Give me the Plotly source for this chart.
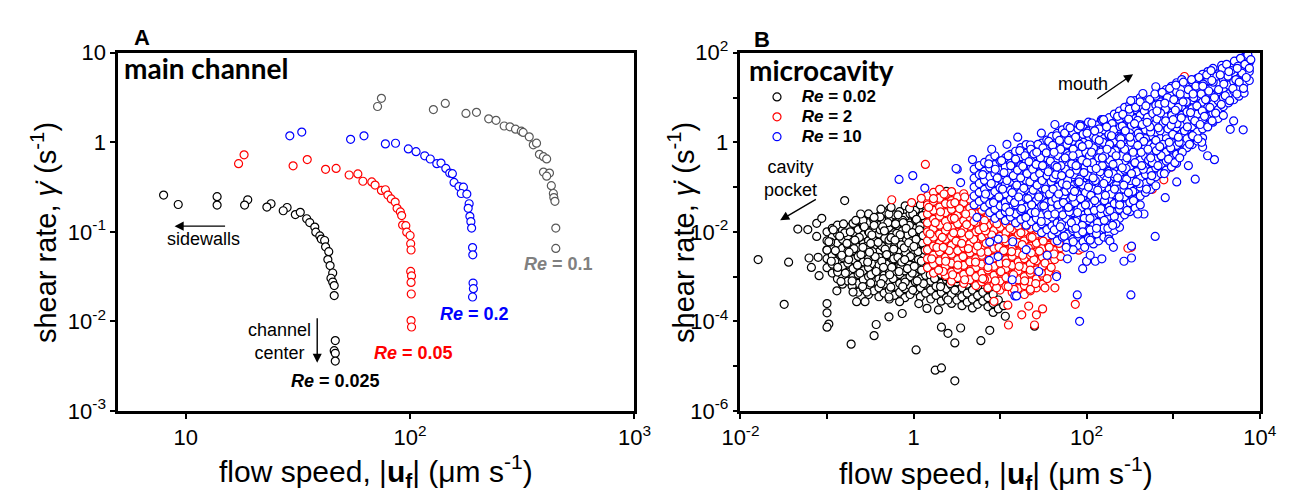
import plotly.graph_objects as go

FONT = "Liberation Sans, Arial, sans-serif"
W, H = 1301, 504

# ---------------- Panel A : main channel ----------------
A_x_re0025 = [7.97, 9.26, 13.8, 13.8, 18.9, 18.3, 24.0, 23.0, 28.3, 27.2, 30.8, 32.4, 34.6, 35.7, 37.6, 38.0,
              39.6, 40.2, 41.6, 42.0, 43.4, 43.0, 44.0, 45.2, 44.4, 45.2, 45.9, 45.9, 46.4, 45.9, 46.4, 46.4]
A_y_re0025 = [0.257, 0.202, 0.247, 0.199, 0.228, 0.199, 0.206, 0.189, 0.187, 0.172, 0.156, 0.165, 0.140, 0.127,
              0.113, 0.099, 0.090, 0.083, 0.080, 0.068, 0.060, 0.049, 0.042, 0.0347, 0.0303, 0.0275, 0.0251,
              0.0194, 0.0061, 0.0047, 0.0044, 0.0036]

A_x_re005 = [17.2, 18.2, 30.1, 34.8, 42.0, 46.8, 53.5, 58.5, 61.6, 67.5, 69.8, 74.5, 77.6, 79.6, 82.4, 85.8,
             87.5, 90.5, 91.7, 92.6, 95.7, 96.6, 100, 100.6, 101, 100.6, 101.5, 101, 101.2, 101, 101.5]
A_y_re005 = [0.577, 0.725, 0.546, 0.641, 0.499, 0.511, 0.431, 0.443, 0.367, 0.361, 0.333, 0.290, 0.295, 0.257,
             0.233, 0.215, 0.183, 0.167, 0.152, 0.119, 0.117, 0.099, 0.091, 0.0736, 0.0627, 0.0361, 0.0322,
             0.0272, 0.0202, 0.0102, 0.00865]

A_x_re02 = [29.1, 32.9, 54.3, 62.3, 77.6, 86.1, 98.2, 106.3, 116.2, 123, 131.5, 137.3, 144.3, 150.2, 154.3,
            157, 165, 172.8, 169, 179, 183.3, 181.5, 184.7, 186.6, 188, 189.8, 190.3, 190.8, 191.5, 189.8]
A_y_re02 = [1.18, 1.30, 1.08, 1.18, 0.96, 0.976, 0.844, 0.785, 0.707, 0.651, 0.577, 0.586, 0.511, 0.453,
            0.446, 0.356, 0.320, 0.315, 0.268, 0.264, 0.206, 0.183, 0.149, 0.130, 0.110, 0.0667, 0.0554,
            0.0268, 0.0232, 0.0187]

A_x_re01 = [71.6, 74.5, 127, 143.5, 177.4, 197.6, 224, 241.5, 262.6, 278.6, 295, 313, 319, 339.6, 354, 366,
            377, 393, 406, 393, 418, 406, 426, 435, 437, 442, 446, 446]
A_y_re01 = [2.51, 3.10, 2.32, 2.72, 2.10, 2.16, 1.83, 1.76, 1.52, 1.49, 1.40, 1.33, 1.29, 1.15, 0.937, 0.977,
            0.734, 0.690, 0.652, 0.465, 0.453, 0.418, 0.328, 0.268, 0.241, 0.219, 0.110, 0.0652]

A_xtick_vals = [10, 100, 1000]
A_xtick_text = ["10", "10<sup>2</sup>", "10<sup>3</sup>"]
A_ytick_vals = [1e-3, 1e-2, 1e-1, 1, 10]
A_ytick_text = ["10<sup>-3</sup>", "10<sup>-2</sup>", "10<sup>-1</sup>", "1", "10"]

# ---------------- Panel B : microcavity ----------------
# point clouds read column by column: (flow speed, [shear rates])
B_re002_cols = [
    (0.1, [1.58e-3, 2.51e-3, 3.98e-3, 6.31e-3, 0.01]),
    (0.115, [1.2e-3, 1.9e-3, 3.0e-3, 4.8e-3, 7.6e-3, 0.012]),
    (0.132, [8.91e-4, 1.41e-3, 2.24e-3, 3.55e-3, 5.62e-3, 8.91e-3, 0.0141]),
    (0.151, [6.76e-4, 1.07e-3, 1.7e-3, 2.69e-3, 4.27e-3, 6.76e-3, 0.0107]),
    (0.174, [7.94e-4, 1.26e-3, 2.0e-3, 3.16e-3, 5.0e-3, 7.94e-3, 0.0126]),
    (0.2, [6.03e-4, 9.55e-4, 1.51e-3, 2.4e-3, 3.8e-3, 6.03e-3, 9.55e-3, 0.0151]),
    (0.229, [4.47e-4, 7.08e-4, 1.12e-3, 1.78e-3, 2.82e-3, 4.47e-3, 7.08e-3, 0.0112, 0.0178]),
    (0.263, [5.37e-4, 8.51e-4, 1.35e-3, 2.14e-3, 3.39e-3, 5.37e-3, 8.51e-3, 0.0135, 0.0214]),
    (0.302, [3.98e-4, 6.31e-4, 1e-3, 1.58e-3, 2.51e-3, 3.98e-3, 6.31e-3, 0.01, 0.0158, 0.0251]),
    (0.347, [4.8e-4, 7.6e-4, 1.2e-3, 1.9e-3, 3.0e-3, 4.8e-3, 7.6e-3, 0.012, 0.019]),
    (0.398, [3.55e-4, 5.62e-4, 8.91e-4, 1.41e-3, 2.24e-3, 3.55e-3, 5.62e-3, 8.91e-3, 0.0141, 0.0224]),
    (0.457, [4.27e-4, 6.76e-4, 1.07e-3, 1.7e-3, 2.69e-3, 4.27e-3, 6.76e-3, 0.0107, 0.017, 0.0269]),
    (0.525, [3.16e-4, 5.0e-4, 7.94e-4, 1.26e-3, 2.0e-3, 3.16e-3, 5.0e-3, 7.94e-3, 0.0126, 0.02, 0.0316]),
    (0.603, [3.8e-4, 6.03e-4, 9.55e-4, 1.51e-3, 2.4e-3, 3.8e-3, 6.03e-3, 9.55e-3, 0.0151, 0.024]),
    (0.692, [4.47e-4, 7.08e-4, 1.12e-3, 1.78e-3, 2.82e-3, 4.47e-3, 7.08e-3, 0.0112, 0.0178, 0.0282]),
    (0.794, [3.39e-4, 5.37e-4, 8.51e-4, 1.35e-3, 2.14e-3, 3.39e-3, 5.37e-3, 8.51e-3, 0.0135, 0.0214]),
    (0.912, [3.98e-4, 6.31e-4, 1e-3, 1.58e-3, 2.51e-3, 3.98e-3, 6.31e-3, 0.01, 0.0158, 0.0251]),
    (1.05, [4.8e-4, 7.6e-4, 1.2e-3, 1.9e-3, 3.0e-3, 4.8e-3, 7.6e-3, 0.012, 0.019, 0.030]),
    (1.2, [3.55e-4, 5.62e-4, 8.91e-4, 1.41e-3, 2.24e-3, 3.55e-3, 5.62e-3, 8.91e-3, 0.0141, 0.0224]),
    (1.38, [4.27e-4, 6.76e-4, 1.07e-3, 1.7e-3, 2.69e-3, 4.27e-3, 6.76e-3, 0.0107, 0.017, 0.0269]),
    (1.58, [3.16e-4, 5.0e-4, 7.94e-4, 1.26e-3, 2.0e-3, 3.16e-3, 5.0e-3, 7.94e-3, 0.0126, 0.02, 0.0316]),
    (1.82, [3.8e-4, 6.03e-4, 9.55e-4, 1.51e-3, 2.4e-3, 3.8e-3, 6.03e-3, 9.55e-3]),
    (2.09, [2.82e-4, 4.47e-4, 7.08e-4, 1.12e-3, 1.78e-3, 2.82e-3, 4.47e-3]),
    (2.4, [3.39e-4, 5.37e-4, 8.51e-4, 1.35e-3, 2.14e-3, 3.39e-3]),
    (2.75, [2.51e-4, 3.98e-4, 6.31e-4, 1e-3, 1.58e-3, 2.51e-3]),
    (3.16, [3.0e-4, 4.8e-4, 7.6e-4, 1.2e-3]),
    (3.63, [2.24e-4, 3.55e-4, 5.62e-4, 8.91e-4]),
    (4.17, [2.69e-4, 4.27e-4, 6.76e-4]),
    (4.79, [2.0e-4, 3.16e-4, 5.0e-4, 7.94e-4]),
    (5.5, [2.4e-4, 3.8e-4, 6.03e-4]),
    (6.31, [2.82e-4, 4.47e-4]),
    (7.24, [2.14e-4, 3.39e-4, 5.37e-4]),
    (8.32, [1.58e-4, 2.51e-4, 3.98e-4]),
    (9.55, [1.9e-4, 3.0e-4]),
    (11.0, [2.24e-4]),
]
B_re002_extra = [
    (0.016, 2.4e-3), (0.036, 2.1e-3), (0.032, 2.4e-4), (0.046, 0.0115), (0.060, 0.0112), (0.076, 7.9e-3),
    (0.076, 0.0155), (0.087, 0.020), (0.16, 0.050), (0.10, 2.5e-4), (0.10, 1.55e-4), (0.105, 8.7e-5),
    (0.10, 7.4e-5), (0.19, 3.1e-5), (0.35, 4.8e-5), (0.37, 8.5e-5), (0.52, 1.26e-4), (1.07, 2.3e-5),
    (1.78, 8.1e-6), (2.1, 9.1e-6), (3.0, 4.7e-6), (0.74, 1.5e-4), (1.15, 2.5e-4), (2.1, 7.4e-5),
    (2.5, 5.4e-5), (3.0, 3.3e-5), (6.0, 3.7e-5), (7.6, 6.3e-5), (11.5, 1.3e-4), (25, 7.8e-5), (3.5, 7.1e-5),
    (0.062, 2.6e-3), (0.079, 2.7e-3), (0.066, 1.6e-3), (0.081, 1.05e-3), (0.133, 1.26e-3),
    (0.13, 4.8e-4), (0.145, 7.8e-4), (0.195, 6.2e-4), (0.20, 4.5e-4), (0.22, 2.75e-4), (0.275, 2.75e-4),
    (0.29, 4.5e-4), (0.32, 7.2e-4), (0.52, 3.5e-4), (0.69, 2.75e-4),
    (1.43, 1.95e-4), (1.94, 1.8e-4), (2.5, 3.0e-4), (0.11, 5.9e-3), (0.10, 3.9e-3),
    (0.16, 9.5e-3), (0.20, 0.0155), (0.26, 0.018), (0.35, 0.018), (0.45, 0.0275), (0.52, 0.025),
    (0.75, 0.018), (0.98, 0.025), (1.26, 0.023), (1.6, 0.0295), (0.245, 0.025), (0.174, 3.6e-3),
    (0.123, 2.2e-3), (0.41, 0.0215), (0.55, 0.035), (0.8, 0.038), (1.2, 0.04), (0.42, 0.032),
    (1.6, 0.045), (1.8, 0.062), (2.4, 0.08), (1.45, 0.045), (0.9, 0.033),
]
B_re002_scatter = [
    (0.105, 0.006), (0.112, 0.0022), (0.118, 0.011), (0.125, 0.0038), (0.133, 0.0016), (0.14, 0.008),
    (0.148, 0.003), (0.155, 0.015), (0.163, 0.0012), (0.17, 0.0055), (0.178, 0.0024), (0.186, 0.01),
    (0.195, 0.0008), (0.205, 0.0042), (0.215, 0.018), (0.225, 0.0018), (0.236, 0.0075), (0.247, 0.0031),
    (0.258, 0.0006), (0.27, 0.013), (0.282, 0.0047), (0.295, 0.0021), (0.308, 0.0095), (0.322, 0.0011),
    (0.336, 0.0036), (0.35, 0.021), (0.365, 0.0062), (0.38, 0.0015), (0.396, 0.0027), (0.412, 0.011),
    (0.43, 0.0048), (0.448, 0.0009), (0.466, 0.0072), (0.485, 0.0019), (0.505, 0.016), (0.525, 0.0034),
    (0.546, 0.00058), (0.568, 0.0085), (0.59, 0.0025), (0.613, 0.0013), (0.637, 0.0055), (0.662, 0.024),
    (0.688, 0.0039), (0.714, 0.0017), (0.742, 0.0105), (0.77, 0.0029), (0.8, 0.00075), (0.83, 0.0065),
    (0.862, 0.0022), (0.895, 0.014), (0.93, 0.0044), (0.965, 0.0012), (1.0, 0.0082), (1.04, 0.0026),
    (1.08, 0.019), (1.12, 0.0052), (1.16, 0.0015), (1.21, 0.0098), (1.25, 0.0032), (1.3, 0.0007),
    (1.35, 0.0068), (1.4, 0.0021), (1.45, 0.0125), (1.5, 0.0041), (1.56, 0.0011), (1.62, 0.0058),
    (1.68, 0.0018), (1.75, 0.0009), (1.82, 0.0035), (1.9, 0.0014), (1.98, 0.0026), (2.05, 0.0006),
    (2.15, 0.0017), (2.25, 0.0042), (2.35, 0.001), (2.5, 0.0021), (2.65, 0.0007), (2.8, 0.0013),
    (3.0, 0.0005), (3.2, 0.0009), (0.32, 0.0055), (0.36, 0.0028), (0.4, 0.0018), (0.44, 0.013),
    (0.47, 0.0041), (0.52, 0.0065), (0.56, 0.0016), (0.6, 0.0046), (0.64, 0.0092), (0.68, 0.0013),
    (0.72, 0.0051), (0.76, 0.016), (0.81, 0.0035), (0.86, 0.0085), (0.9, 0.0018), (0.95, 0.0062),
    (0.99, 0.0031), (1.06, 0.0047), (1.14, 0.0024), (1.19, 0.0135), (1.27, 0.0056), (1.33, 0.0017),
    (1.42, 0.0078), (1.52, 0.0027), (0.42, 0.0007), (0.58, 0.0009), (0.75, 0.0006), (0.98, 0.0005),
    (1.1, 0.0008),
    (0.31, 0.0035), (0.33, 0.0085), (0.37, 0.0013), (0.39, 0.0058), (0.43, 0.0022), (0.46, 0.0105),
    (0.49, 0.0031), (0.53, 0.0011), (0.55, 0.0074), (0.59, 0.0041), (0.62, 0.015), (0.66, 0.0027),
    (0.7, 0.0086), (0.73, 0.0021), (0.78, 0.0044), (0.82, 0.012), (0.85, 0.0015), (0.88, 0.0057),
    (0.92, 0.0028), (0.97, 0.0096), (1.02, 0.0017), (1.07, 0.0068), (1.13, 0.0036), (1.17, 0.011),
    (1.23, 0.0022), (1.29, 0.0082), (1.36, 0.0039), (1.44, 0.0016), (1.49, 0.0093), (1.57, 0.0033),
    (0.35, 0.014), (0.45, 0.0016), (0.61, 0.0065), (0.79, 0.0024), (1.01, 0.0047), (1.24, 0.0014),
    (0.26, 0.0045), (0.24, 0.0012), (0.21, 0.0065), (0.18, 0.0035),
]

B_re2_cols = [
    (1.45, [1.58e-3, 2.51e-3, 3.98e-3, 6.31e-3, 0.01, 0.0158, 0.0251, 0.0398, 0.0631]),
    (1.70, [1.2e-3, 1.9e-3, 3.0e-3, 4.8e-3, 7.6e-3, 0.012, 0.019, 0.030, 0.048, 0.076]),
    (2.0, [1.41e-3, 2.24e-3, 3.55e-3, 5.62e-3, 8.91e-3, 0.0141, 0.0224, 0.0355, 0.0562, 0.0891]),
    (2.34, [1.07e-3, 1.7e-3, 2.69e-3, 4.27e-3, 6.76e-3, 0.0107, 0.017, 0.0269, 0.0427, 0.0676]),
    (2.75, [7.94e-4, 1.26e-3, 2.0e-3, 3.16e-3, 5.0e-3, 7.94e-3, 0.0126, 0.02, 0.0316, 0.05, 0.0794]),
    (3.24, [9.55e-4, 1.51e-3, 2.4e-3, 3.8e-3, 6.03e-3, 9.55e-3, 0.0151, 0.024, 0.038, 0.0603]),
    (3.80, [7.08e-4, 1.12e-3, 1.78e-3, 2.82e-3, 4.47e-3, 7.08e-3, 0.0112, 0.0178, 0.0282, 0.0447, 0.0708]),
    (4.47, [8.51e-4, 1.35e-3, 2.14e-3, 3.39e-3, 5.37e-3, 8.51e-3, 0.0135, 0.0214, 0.0339, 0.0537]),
    (5.25, [6.31e-4, 1e-3, 1.58e-3, 2.51e-3, 3.98e-3, 6.31e-3, 0.01, 0.0158, 0.0251, 0.0398]),
    (6.17, [7.6e-4, 1.2e-3, 1.9e-3, 3.0e-3, 4.8e-3, 7.6e-3, 0.012, 0.019, 0.030]),
    (7.24, [5.62e-4, 8.91e-4, 1.41e-3, 2.24e-3, 3.55e-3, 5.62e-3, 8.91e-3, 0.0141, 0.0224, 0.0355]),
    (8.51, [6.76e-4, 1.07e-3, 1.7e-3, 2.69e-3, 4.27e-3, 6.76e-3, 0.0107, 0.017, 0.0269]),
    (10.0, [5.0e-4, 7.94e-4, 1.26e-3, 2.0e-3, 3.16e-3, 5.0e-3, 7.94e-3, 0.0126, 0.02]),
    (11.7, [6.03e-4, 9.55e-4, 1.51e-3, 2.4e-3, 3.8e-3, 6.03e-3, 9.55e-3, 0.0151, 0.024]),
    (13.8, [4.47e-4, 7.08e-4, 1.12e-3, 1.78e-3, 2.82e-3, 4.47e-3, 7.08e-3, 0.0112, 0.0178]),
    (16.2, [5.37e-4, 8.51e-4, 1.35e-3, 2.14e-3, 3.39e-3, 5.37e-3, 8.51e-3, 0.0135]),
    (19.1, [3.98e-4, 6.31e-4, 1e-3, 1.58e-3, 2.51e-3, 3.98e-3, 6.31e-3, 0.01, 0.0158]),
    (22.4, [4.8e-4, 7.6e-4, 1.2e-3, 1.9e-3, 3.0e-3, 4.8e-3, 7.6e-3, 0.012]),
    (26.3, [5.62e-4, 8.91e-4, 1.41e-3, 2.24e-3, 3.55e-3, 5.62e-3, 8.91e-3]),
    (30.9, [6.76e-4, 1.07e-3, 1.7e-3, 2.69e-3, 4.27e-3, 6.76e-3]),
    (36.3, [1.26e-3, 2.0e-3, 3.16e-3, 5.0e-3, 7.94e-3]),
    (42.7, [2.4e-3, 3.8e-3, 6.03e-3]),
    (50.1, [2.82e-3, 4.47e-3]),
]
B_re2_extra = [
    (1.37, 0.32), (0.56, 0.052), (0.95, 0.045), (1.23, 0.056), (2.2, 1.3e-3), (3.9, 8.5e-4), (6.6, 8.7e-4),
    (8.5, 2.8e-4), (12.3, 2.3e-4), (12.5, 8.3e-5), (17.8, 1.4e-4), (21.4, 2.2e-4), (25, 8.3e-5),
    (26.3, 1.4e-4), (31, 1.9e-4), (9.1, 5.6e-4), (14.5, 5.2e-4), (22.4, 5.2e-4),
    (33, 5.6e-4), (43, 5.6e-4), (74, 2.4e-4), (81, 3.9e-3), (100, 2.2e-3), (330, 4.6e-3), (250, 5.0),
    (115, 2.45), (1350, 29.5), (780, 0.145), (575, 0.089), (300, 0.05), (316, 0.036), (220, 0.022),
    (120, 0.0148), (325, 4.5e-3), (955, 0.28), (126, 2.3), (30, 0.63), (316, 5.0), (60, 0.03), (80, 0.1),
    (150, 0.2), (200, 1.0), (400, 2.0), (600, 5), (1000, 10), (45, 0.5), (100, 0.6), (250, 0.05),
    (500, 0.6), (800, 3), (35, 8e-3), (55, 6e-3), (90, 0.012), (130, 0.03), (180, 0.08), (70, 0.3),
    (1500, 15), (700, 1.5), (275, 0.048), (215, 0.021), (300, 4.3e-3), (115, 0.0112), (98, 0.018),
    (89, 4.3e-3),
]
B_re2_scatter = [
    (1.5, 0.035), (1.55, 0.009), (1.62, 0.0025), (1.7, 0.055), (1.78, 0.016), (1.86, 0.0045), (1.95, 0.0014),
    (2.05, 0.028), (2.15, 0.0075), (2.25, 0.07), (2.35, 0.0022), (2.46, 0.013), (2.58, 0.0038), (2.7, 0.042),
    (2.83, 0.0011), (2.96, 0.02), (3.1, 0.0062), (3.25, 0.0018), (3.4, 0.033), (3.56, 0.0095), (3.73, 0.0028),
    (3.9, 0.06), (4.1, 0.0145), (4.3, 0.0042), (4.5, 0.0013), (4.7, 0.026), (4.95, 0.0068), (5.2, 0.0021),
    (5.45, 0.04), (5.7, 0.011), (6.0, 0.0035), (6.3, 0.0009), (6.6, 0.018), (6.9, 0.0055), (7.25, 0.0016),
    (7.6, 0.03), (8.0, 0.0085), (8.4, 0.0026), (8.8, 0.0008), (9.2, 0.015), (9.7, 0.0045), (10.2, 0.0013),
    (10.7, 0.022), (11.2, 0.007), (11.8, 0.002), (12.4, 0.0006), (13, 0.012), (13.6, 0.0036), (14.3, 0.0011),
    (15, 0.018), (15.8, 0.0058), (16.6, 0.0017), (17.4, 0.0095), (18.3, 0.003), (19.2, 0.0008),
    (20.2, 0.0135), (21.2, 0.0044), (22.3, 0.0014), (23.4, 0.0075), (24.6, 0.0024), (25.8, 0.0007),
    (27.1, 0.011), (28.5, 0.0037), (30, 0.0012), (31.5, 0.0062), (33, 0.002), (35, 0.0009), (37, 0.0045),
    (39, 0.0016), (42, 0.0032), (45, 0.0011), (48, 0.0055), (2.2, 0.0045), (2.9, 0.0095), (3.6, 0.0055),
    (4.4, 0.0085), (5.5, 0.0048), (6.8, 0.0105), (8.5, 0.0062), (11, 0.0038), (14, 0.0068), (18, 0.0052),
    (23, 0.0034), (3.0, 0.045), (4.0, 0.025), (5.0, 0.017), (6.5, 0.0125),
]

B_re10_cols = [
    (5.01, [0.0398, 0.0631, 0.1, 0.158, 0.251]),
    (5.75, [0.048, 0.076, 0.12, 0.19, 0.30]),
    (6.61, [0.0355, 0.0562, 0.0891, 0.141, 0.224, 0.355]),
    (7.59, [0.0269, 0.0427, 0.0676, 0.107, 0.17, 0.269, 0.427]),
    (8.71, [0.02, 0.0316, 0.05, 0.0794, 0.126, 0.2, 0.316, 0.5]),
    (10.0, [0.024, 0.038, 0.0603, 0.0955, 0.151, 0.24, 0.38]),
    (11.5, [0.0178, 0.0282, 0.0447, 0.0708, 0.112, 0.178, 0.282, 0.447]),
    (13.2, [0.0214, 0.0339, 0.0537, 0.0851, 0.135, 0.214, 0.339, 0.537]),
    (15.1, [0.0158, 0.0251, 0.0398, 0.0631, 0.1, 0.158, 0.251, 0.398, 0.631]),
    (17.4, [0.019, 0.030, 0.048, 0.076, 0.12, 0.19, 0.30, 0.48, 0.76]),
    (20.0, [0.0141, 0.0224, 0.0355, 0.0562, 0.0891, 0.141, 0.224, 0.355, 0.562, 0.891]),
    (22.9, [0.017, 0.0269, 0.0427, 0.0676, 0.107, 0.17, 0.269, 0.427, 0.676]),
    (26.3, [0.0126, 0.02, 0.0316, 0.05, 0.0794, 0.126, 0.2, 0.316, 0.5, 0.794]),
    (30.2, [0.00955, 0.0151, 0.024, 0.038, 0.0603, 0.0955, 0.151, 0.24, 0.38, 0.603, 0.955]),
    (34.7, [0.0112, 0.0178, 0.0282, 0.0447, 0.0708, 0.112, 0.178, 0.282, 0.447, 0.708, 1.12]),
    (39.8, [0.00851, 0.0135, 0.0214, 0.0339, 0.0537, 0.0851, 0.135, 0.214, 0.339, 0.537, 0.851, 1.35]),
    (45.7, [0.00631, 0.01, 0.0158, 0.0251, 0.0398, 0.0631, 0.1, 0.158, 0.251, 0.398, 0.631, 1.0, 1.58]),
    (52.5, [0.0076, 0.012, 0.019, 0.030, 0.048, 0.076, 0.12, 0.19, 0.30, 0.48, 0.76, 1.2, 1.9]),
    (60.3, [0.00562, 0.00891, 0.0141, 0.0224, 0.0355, 0.0562, 0.0891, 0.141, 0.224, 0.355, 0.562, 0.891,
            1.41, 2.24]),
    (69.2, [0.00676, 0.0107, 0.017, 0.0269, 0.0427, 0.0676, 0.107, 0.17, 0.269, 0.427, 0.676, 1.07, 1.7]),
    (79.4, [0.005, 0.00794, 0.0126, 0.02, 0.0316, 0.05, 0.0794, 0.126, 0.2, 0.316, 0.5, 0.794, 1.26, 2.0]),
    (91.2, [0.00603, 0.00955, 0.0151, 0.024, 0.038, 0.0603, 0.0955, 0.151, 0.24, 0.38, 0.603, 0.955, 1.51,
            2.4]),
    (105, [0.00708, 0.0112, 0.0178, 0.0282, 0.0447, 0.0708, 0.112, 0.178, 0.282, 0.447, 0.708, 1.12, 1.78,
           2.82]),
    (120, [0.00537, 0.00851, 0.0135, 0.0214, 0.0339, 0.0537, 0.0851, 0.135, 0.214, 0.339, 0.537, 0.851, 1.35,
           2.14]),
    (138, [0.00631, 0.01, 0.0158, 0.0251, 0.0398, 0.0631, 0.1, 0.158, 0.251, 0.398, 0.631, 1.0, 1.58, 2.51]),
    (158, [0.0076, 0.012, 0.019, 0.030, 0.048, 0.076, 0.12, 0.19, 0.30, 0.48, 0.76, 1.2, 1.9, 3.0]),
    (182, [0.00891, 0.0141, 0.0224, 0.0355, 0.0562, 0.0891, 0.141, 0.224, 0.355, 0.562, 0.891, 1.41, 2.24,
           3.55]),
    (209, [0.0107, 0.017, 0.0269, 0.0427, 0.0676, 0.107, 0.17, 0.269, 0.427, 0.676, 1.07, 1.7, 2.69, 4.27]),
    (240, [0.0126, 0.02, 0.0316, 0.05, 0.0794, 0.126, 0.2, 0.316, 0.5, 0.794, 1.26, 2.0, 3.16, 5.0]),
    (275, [0.024, 0.038, 0.0603, 0.0955, 0.151, 0.24, 0.38, 0.603, 0.955, 1.51, 2.4, 3.8, 6.03]),
    (316, [0.0282, 0.0447, 0.0708, 0.112, 0.178, 0.282, 0.447, 0.708, 1.12, 1.78, 2.82, 4.47, 7.08]),
    (363, [0.0339, 0.0537, 0.0851, 0.135, 0.214, 0.339, 0.537, 0.851, 1.35, 2.14, 3.39, 5.37, 8.51]),
    (417, [0.0398, 0.0631, 0.1, 0.158, 0.251, 0.398, 0.631, 1.0, 1.58, 2.51, 3.98, 6.31, 10]),
    (479, [0.076, 0.12, 0.19, 0.30, 0.48, 0.76, 1.2, 1.9, 3.0, 4.8, 7.6]),
    (550, [0.0891, 0.141, 0.224, 0.355, 0.562, 0.891, 1.41, 2.24, 3.55, 5.62, 8.91]),
    (631, [0.107, 0.17, 0.269, 0.427, 0.676, 1.07, 1.7, 2.69, 4.27, 6.76, 10.7]),
    (724, [0.2, 0.316, 0.5, 0.794, 1.26, 2.0, 3.16, 5.0, 7.94, 12.6]),
    (832, [0.24, 0.38, 0.603, 0.955, 1.51, 2.4, 3.8, 6.03, 9.55, 15.1]),
    (955, [0.282, 0.447, 0.708, 1.12, 1.78, 2.82, 4.47, 7.08, 11.2, 17.8]),
    (1096, [0.339, 0.537, 0.851, 1.35, 2.14, 3.39, 5.37, 8.51, 13.5, 21.4]),
    (1259, [0.631, 1.0, 1.58, 2.51, 3.98, 6.31, 10, 15.8, 25.1]),
    (1445, [0.76, 1.2, 1.9, 3.0, 4.8, 7.6, 12, 19]),
    (1660, [0.891, 1.41, 2.24, 3.55, 5.62, 8.91, 14.1, 22.4]),
    (1905, [1.07, 1.7, 2.69, 4.27, 6.76, 10.7, 17, 26.9]),
    (2188, [1.26, 2.0, 3.16, 5.0, 7.94, 12.6, 20, 31.6]),
    (2512, [2.4, 3.8, 6.03, 9.55, 15.1, 24, 38]),
    (2884, [2.82, 4.47, 7.08, 11.2, 17.8, 28.2, 44.7]),
    (3311, [3.39, 5.37, 8.51, 13.5, 21.4, 33.9]),
    (3802, [3.98, 6.31, 10, 15.8, 25.1, 39.8]),
    (4365, [7.6, 12, 19, 30, 48]),
    (5012, [8.91, 14.1, 22.4, 35.5, 56.2]),
    (5754, [10.7, 17, 26.9, 42.7, 67.6]),
    (6607, [12.6, 20, 31.6, 50, 79.4]),
    (7586, [24, 38, 60.3]),
]
B_re10_extra = [
    (3.2, 0.25), (0.68, 0.148), (0.98, 0.18), (1.35, 0.095), (3.1, 0.26), (3.5, 0.126), (4.8, 0.41),
    (22.4, 0.87), (43, 2.5), (7.5, 2.3e-3), (9.5, 2.8e-3), (13.8, 8.5e-4), (14.8, 3.7e-4), (15.5, 3.7e-4),
    (78, 3.9e-4), (83, 1.0e-4), (325, 3.9e-4), (330, 4.8e-3), (330, 2.6e-3), (620, 7.9e-3), (270, 2.2e-3),
    (180, 6.9e-3), (126, 2.2e-3), (100, 2.2e-3), (3000, 0.41), (4570, 1.95), (6450, 1.9), (6800, 74),
    (7200, 83), (2190, 0.78), (2140, 1.0), (1100, 0.13), (810, 0.058), (460, 0.025), (390, 0.025),
    (186, 6.2e-3), (204, 4.5e-3), (7.6, 5.9e-3), (9.5, 6.9e-3), (5.4, 0.021), (81, 2.5), (148, 3.2),
    (316, 4.5), (324, 8.5), (447, 12.3), (630, 17.4), (2190, 33), (3630, 52), (151, 3.1), (85, 2.45),
    (28, 1.3e-3), (45, 1.0e-3), (60, 2.5e-3), (35, 3.0e-3), (20, 4e-3), (14, 6e-3), (90, 1.5e-3),
    (110, 3e-3), (150, 2.5e-3), (70, 4e-3), (8, 0.7), (12, 0.9), (16, 1.3), (30, 1.6), (1500, 0.3),
    (2500, 0.5), (5000, 3), (1800, 0.15),
]
B_re10_scatter = [
    (6.3, 0.19), (6.8, 0.07), (7.4, 0.33), (7.9, 0.12), (8.4, 0.045), (8.8, 0.25), (9.3, 0.16), (9.7, 0.06),
    (10.4, 0.39), (10.7, 0.09), (11.1, 0.21), (11.6, 0.035), (12.0, 0.14), (12.4, 0.5), (12.9, 0.028),
    (13.3, 0.3), (13.8, 0.075), (14.2, 0.18), (14.7, 0.045), (15.1, 0.42), (15.6, 0.11), (15.9, 0.24),
    (16.4, 0.06), (16.9, 0.65), (17.3, 0.16), (17.8, 0.033), (18.3, 0.29), (18.8, 0.095), (19.4, 0.5),
    (19.9, 0.021), (20.5, 0.2), (21.0, 0.055), (21.6, 0.37), (22.1, 0.13), (22.7, 0.7), (23.2, 0.04),
    (23.8, 0.25), (24.1, 0.085), (24.6, 0.55), (24.9, 0.17),
    (25.5, 0.027), (26.1, 0.32), (26.8, 0.11), (27.4, 0.9), (28.0, 0.06), (28.7, 0.2), (29.3, 0.45),
    (29.9, 0.017), (30.6, 0.14), (31.3, 0.75), (32.0, 0.038), (32.7, 0.26), (33.4, 0.09), (34.2, 0.58),
    (35.0, 0.18), (35.8, 0.024), (36.5, 1.05), (37.3, 0.07), (38.1, 0.38), (38.9, 0.13), (39.5, 0.048),
    (26.5, 0.6), (31.0, 0.3), (36.0, 0.22),
    (40.5, 0.85), (41.4, 0.16), (42.3, 0.011), (43.2, 0.3), (44.1, 0.055), (45.1, 1.4), (46.1, 0.1),
    (47.0, 0.5), (48.0, 0.032), (49.1, 0.21), (50.1, 0.7), (51.2, 0.015), (52.3, 0.12), (53.4, 0.4),
    (54.6, 0.065), (55.7, 1.6), (56.9, 0.25), (58.1, 0.02), (59.3, 0.9), (42.0, 0.6), (46.5, 0.04),
    (50.5, 0.3), (53.0, 0.024), (57.0, 0.08), (44.0, 0.19), (48.5, 1.1),
    (60.5, 0.14), (61.8, 0.5), (63.1, 0.028), (64.4, 2.1), (65.8, 0.09), (67.2, 0.33), (68.6, 0.012),
    (70.1, 0.7), (71.6, 0.19), (73.1, 0.045), (74.6, 1.3), (76.2, 0.24), (77.8, 0.07), (79.4, 0.009),
    (81.1, 0.55), (82.8, 0.15), (84.6, 2.3), (86.4, 0.035), (88.2, 0.4), (90.1, 0.11), (92.0, 1.0),
    (94.0, 0.02), (96.0, 0.28), (98.0, 0.6), (62.0, 1.1), (69.0, 0.06), (75.0, 0.017), (83.0, 0.9),
    (89.0, 0.014), (97.0, 0.075),
    (101, 1.6), (103, 0.18), (106, 0.04), (108, 0.5), (110, 0.011), (113, 0.26), (115, 2.7), (118, 0.09),
    (120, 0.75), (123, 0.03), (126, 0.14), (128, 1.2), (131, 0.38), (134, 0.016), (137, 0.06), (140, 2.0),
    (143, 0.22), (146, 0.6), (149, 0.1), (105, 0.9), (112, 0.065), (117, 0.35), (124, 1.8), (130, 0.009),
    (138, 0.45), (147, 0.025),
    (152, 0.3), (157, 3.2), (161, 0.05), (166, 0.85), (171, 0.15), (176, 0.012), (181, 1.5), (186, 0.4),
    (192, 0.07), (197, 2.6), (203, 0.2), (209, 0.022), (215, 0.65), (221, 0.11), (228, 3.8), (235, 0.34),
    (241, 0.04), (248, 1.2), (155, 1.0), (163, 0.5), (174, 0.028), (184, 0.9), (195, 0.6), (206, 1.9),
    (218, 0.015), (232, 0.09), (244, 2.2), (170, 2.2),
    (255, 0.5), (262, 4.2), (270, 0.09), (278, 1.7), (286, 0.26), (294, 0.03), (302, 0.8), (311, 5.5),
    (320, 0.14), (329, 2.4), (338, 0.45), (348, 0.05), (358, 1.1), (368, 6.0), (378, 0.22), (389, 3.1),
    (258, 2.3), (275, 0.7), (290, 0.15), (306, 3.3), (325, 1.0), (342, 0.08), (362, 0.35), (395, 1.6),
    (405, 0.12), (416, 8.0), (428, 0.6), (440, 2.5), (452, 0.25), (465, 5.0), (478, 1.2), (492, 0.09),
    (506, 3.6), (520, 0.4), (535, 9.0), (550, 1.7), (566, 0.18), (582, 4.4), (598, 0.8), (410, 1.3),
    (433, 0.3), (458, 1.05), (484, 6.5), (512, 0.7), (540, 2.2), (575, 0.35),
    (615, 12), (632, 1.1), (650, 3.3), (668, 0.3), (687, 7.0), (707, 1.8), (727, 0.5), (748, 13), (769, 2.7),
    (791, 0.2), (813, 5.5), (836, 1.2), (860, 10), (884, 0.42), (640, 0.65), (675, 2.1), (715, 4.5),
    (760, 0.9), (820, 3.0), (870, 2.0),
    (910, 16), (936, 0.75), (963, 4.0), (990, 1.5), (1018, 9.0), (1047, 0.35), (1077, 19), (1108, 2.6),
    (1140, 6.0), (1172, 1.0), (1206, 12), (1240, 3.5), (1275, 0.6), (1312, 22), (1350, 1.8), (950, 2.4),
    (1060, 5.2), (1190, 0.45),
    (1420, 8.0), (1460, 2.2), (1500, 15), (1545, 0.9), (1590, 4.6), (1635, 25), (1680, 1.4), (1730, 10),
    (1780, 3.0), (1830, 18), (1880, 6.5), (1935, 1.2), (1990, 28), (2050, 2.5), (2110, 12), (2170, 5.0),
    (2230, 20), (2300, 3.8), (2370, 9.0), (2440, 32), (2510, 2.2), (2580, 14), (2660, 6.0), (2740, 40),
    (2820, 3.0), (2900, 22), (3000, 10), (3100, 4.5), (3200, 30), (3350, 15),
    (3600, 7.0), (3700, 45), (3850, 20), (4000, 11), (4150, 55), (4300, 30), (4500, 8.5), (4700, 40),
    (4900, 16), (5100, 65), (5300, 25), (5450, 12),
    (5600, 50), (5800, 22), (6000, 75), (6250, 35), (6500, 16), (6750, 55), (7000, 28), (7300, 90),
    (7600, 45), (7900, 70),
    (41, 0.09), (43, 0.025), (45.5, 0.28), (47.5, 0.07), (49.5, 0.013), (51.5, 0.18), (54, 0.045),
    (56.5, 0.45), (59, 0.11), (61.5, 0.035), (64, 0.2), (66.5, 0.016), (69.5, 0.5), (72.5, 0.08),
    (75.5, 0.3), (78.5, 0.027), (82, 0.13), (85.5, 0.055), (89, 0.8), (93, 0.21), (97, 0.04), (101, 0.35),
    (105, 0.1), (109.5, 0.02), (114, 0.6), (119, 0.16), (124, 0.05), (129, 0.26), (134.5, 0.085),
    (140, 1.1), (146, 0.033), (152, 0.45), (158, 0.12), (165, 0.065), (172, 0.7), (179, 0.2), (186, 0.03),
    (194, 1.4), (202, 0.32), (210, 0.09), (219, 0.5), (228, 0.16), (238, 0.06), (248, 0.9), (258, 0.27),
    (269, 0.11), (280, 1.8), (292, 0.45), (304, 0.075), (316, 1.3), (330, 0.2), (344, 0.6), (358, 2.6),
    (373, 0.13), (389, 0.85), (55, 0.008), (70, 0.006), (90, 0.01), (110, 0.0065), (130, 0.012),
    (160, 0.018), (200, 0.014), (95, 0.0045), (75, 0.012), (58, 0.0045), (500, 2.8), (650, 5), (800, 7.5),
    (1000, 3.2), (1300, 8), (1700, 12), (2200, 18), (2800, 24), (3500, 32), (4400, 38), (5500, 45),
    (1150, 1.3), (900, 1.0), (700, 0.8), (550, 0.45),
]

B_xtick_vals = [1e-2, 1, 100, 1e4]
B_xtick_text = ["10<sup>-2</sup>", "1", "10<sup>2</sup>", "10<sup>4</sup>"]
B_xminor_vals = [0.1, 10, 1000]
B_ytick_vals = [1e-6, 1e-4, 1e-2, 1, 100]
B_ytick_text = ["10<sup>-6</sup>", "10<sup>-4</sup>", "10<sup>-2</sup>", "1", "10<sup>2</sup>"]
B_yminor_vals = [1e-5, 1e-3, 1e-1, 10]


def expand(cols, pair_lists):
    xs, ys = [], []
    for xv, yl in cols:
        for yv in yl:
            xs.append(xv)
            ys.append(yv)
    for pl in pair_lists:
        for xv, yv in pl:
            xs.append(xv)
            ys.append(yv)
    return xs, ys


def marker(color):
    return dict(symbol="circle", size=8, color="white", line=dict(color=color, width=1.2))


fig = go.Figure()

for xs, ys, col in [(A_x_re0025, A_y_re0025, "#000000"), (A_x_re005, A_y_re005, "#ff0000"),
                    (A_x_re02, A_y_re02, "#0000ff"), (A_x_re01, A_y_re01, "#595959")]:
    fig.add_trace(go.Scatter(x=xs, y=ys, mode="markers", marker=marker(col), showlegend=False,
                             xaxis="x", yaxis="y"))

for cols, pls, col, name in [(B_re002_cols, (B_re002_extra, B_re002_scatter), "#000000", "0.02"),
                             (B_re2_cols, (B_re2_extra, B_re2_scatter), "#ff0000", "2"),
                             (B_re10_cols, (B_re10_extra, B_re10_scatter), "#0000ff", "10")]:
    xs, ys = expand(cols, pls)
    fig.add_trace(go.Scatter(
        x=xs, y=ys, mode="markers", marker=marker(col),
        name="<span style='font-size:17px'>&nbsp;<b><i>Re</i> = %s</b></span>" % name,
        xaxis="x2", yaxis="y2"))

ax_common = dict(type="log", showline=True, linewidth=2.5, linecolor="black", mirror=True,
                 ticks="outside", ticklen=5, tickwidth=2, tickcolor="black", showgrid=False,
                 zeroline=False, tickfont=dict(family=FONT, size=22, color="black"))
minor_common = dict(tickmode="array", ticks="outside", ticklen=5, tickwidth=2, tickcolor="black",
                    showgrid=False)

ydom = [1 - 419 / H, 1 - 39 / H]
fig.update_layout(
    width=W, height=H, margin=dict(l=0, r=0, t=0, b=0),
    paper_bgcolor="white", plot_bgcolor="white",
    font=dict(family=FONT, color="black"),
    xaxis=dict(ax_common, domain=[102 / W, 633 / W], range=[0.699, 3], anchor="y",
               tickmode="array", tickvals=A_xtick_vals, ticktext=A_xtick_text),
    yaxis=dict(ax_common, domain=ydom, range=[-3, 1], anchor="x",
               tickmode="array", tickvals=A_ytick_vals, ticktext=A_ytick_text),
    xaxis2=dict(ax_common, domain=[742 / W, 1276 / W], range=[-2, 4], anchor="y2",
                tickmode="array", tickvals=B_xtick_vals, ticktext=B_xtick_text,
                minor=dict(minor_common, tickvals=B_xminor_vals)),
    yaxis2=dict(ax_common, domain=ydom, range=[-6, 2], anchor="x2",
                tickmode="array", tickvals=B_ytick_vals, ticktext=B_ytick_text,
                minor=dict(minor_common, tickvals=B_yminor_vals)),
    legend=dict(x=759 / W, y=1 - 70 / H, xanchor="left", yanchor="top", bgcolor="rgba(0,0,0,0)",
                font=dict(family=FONT, size=13, color="black"), tracegroupgap=0),
)


def P(px, py):
    return px / W, 1 - py / H


anns = []


def text(px, py, s, size, color="black", family=FONT, xanchor="center", angle=0):
    x, y = P(px, py)
    anns.append(dict(x=x, y=y, xref="paper", yref="paper", text=s, showarrow=False, xanchor=xanchor,
                     yanchor="middle", textangle=angle, font=dict(family=family, size=size, color=color)))


def arrow(hx, hy, tx, ty):
    x, y = P(hx, hy)
    anns.append(dict(x=x, y=y, xref="paper", yref="paper", text="", showarrow=True, ax=tx - hx, ay=ty - hy,
                     axref="pixel", ayref="pixel", arrowhead=2, arrowsize=1.3, arrowwidth=1.4,
                     arrowcolor="black", standoff=0, startstandoff=0))


text(126, 23, "<b>A</b>", 22)
text(764, 25, "<b>B</b>", 22)
text(106, 55, "<b>main channel</b>", 28, family="Lato, sans-serif", xanchor="left")
text(749, 57, "<b>microcavity</b>", 28, family="Lato, sans-serif", xanchor="left")
text(190, 237, "sidewalls", 18)
arrow(160, 223, 212, 223)
text(268, 345, "channel<br>center", 18)
arrow(306.7, 368, 306.7, 322)
text(325, 387, "<b><i>Re</i> = 0.025</b>", 18, "#000000")
text(406, 358, "<b><i>Re</i> = 0.05</b>", 18, "#ff0000")
text(468, 316, "<b><i>Re</i> = 0.2</b>", 18, "#0000ff")
text(555, 263, "<b><i>Re</i> = 0.1</b>", 18, "#808080")
text(793, 172, "cavity<br>pocket", 18)
arrow(782.8, 216.7, 820, 195)
text(1094, 72, "mouth", 18)
arrow(1145.8, 61.7, 1108.5, 87.3)

xt = "flow speed, |<b>u</b><sub><b>f</b></sub>| (\u03bcm s<sup>-1</sup>)"
yt = "shear rate, <i>\u03b3\u0307</i> (s<sup>-1</sup>)"
text(367, 483, xt, 30)
text(1005, 485, xt, 30)
text(25, 230, yt, 29, angle=-90)
text(681, 230, yt, 29, angle=-90)

fig.update_layout(annotations=anns)
fig.write_html("out.html")
